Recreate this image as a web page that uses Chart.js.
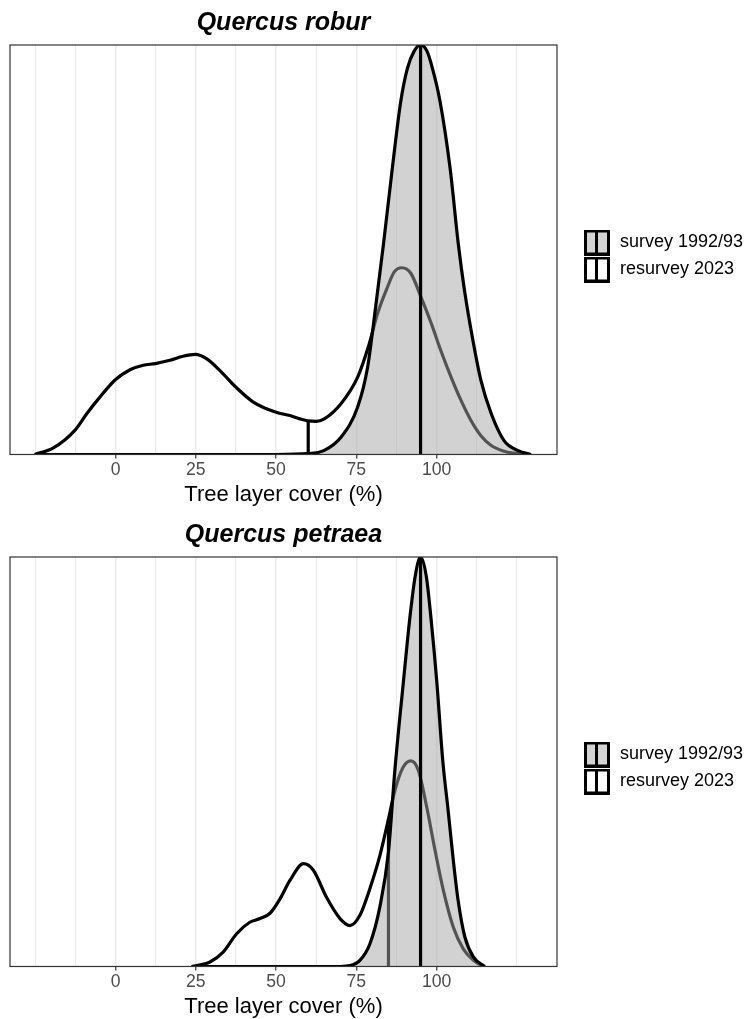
<!DOCTYPE html>
<html>
<head>
<meta charset="utf-8">
<script src="https://cdn.jsdelivr.net/npm/chart.js@4.4.1/dist/chart.umd.min.js"></script>
<style>
  html, body { margin: 0; padding: 0; background: #ffffff; overflow: hidden; }
  canvas { display: block; }
</style>
</head>
<body>
<canvas id="robur" width="749" height="512"></canvas>
<canvas id="petraea" width="749" height="512"></canvas>
<script>
// Tree layer cover (%) and scaled kernel density heights, per species and survey.
const roburSurveyX = [-25.2, 0, 25, 50, 60, 65, 70.2, 75.4, 78.5, 81, 83.4, 86.2, 88.8, 90.9, 93, 95, 97, 98.7, 101.1, 104.2, 106.8, 108.7, 111.3, 113.8, 117, 121, 125.2, 129.4];
const roburSurveyY = [0, 0, 0, 0, 0.002, 0.01, 0.042, 0.116, 0.213, 0.36, 0.511, 0.699, 0.861, 0.943, 0.985, 1.0, 0.985, 0.943, 0.861, 0.699, 0.511, 0.40, 0.279, 0.181, 0.1, 0.034, 0.01, 0];

const roburResurveyX = [-25.2, -19.4, -12.7, -9, -4.9, 0, 4.5, 8.6, 12.4, 16.9, 21, 24.9, 28.3, 32.5, 37.4, 42.9, 50, 54.3, 57.4, 60, 62.5, 65, 70.2, 75.4, 79, 81.6, 84.7, 86.8, 89.2, 92, 95.1, 98.2, 101.3, 104.5, 107.6, 110.7, 113.8, 117, 121, 125.2, 129.4];
const roburResurveyY = [0, 0.016, 0.059, 0.0995, 0.14, 0.183, 0.207, 0.218, 0.222, 0.23, 0.24, 0.2445, 0.234, 0.205, 0.165, 0.128, 0.103, 0.095, 0.087, 0.082, 0.081, 0.087, 0.124, 0.189, 0.27, 0.344, 0.409, 0.446, 0.456, 0.442, 0.385, 0.323, 0.254, 0.189, 0.132, 0.083, 0.046, 0.022, 0.008, 0.002, 0];

const petraeaSurveyX = [23.7, 50, 70, 73, 76.1, 79.2, 82.3, 85, 87, 89.6, 91.7, 93.3, 95, 96.8, 98.2, 100.1, 101.9, 103.6, 105.2, 106.7, 108.8, 111.5, 114.6, 115];
const petraeaSurveyY = [0, 0, 0, 0.002, 0.015, 0.055, 0.145, 0.28, 0.48, 0.691, 0.854, 0.952, 1.0, 0.952, 0.854, 0.691, 0.504, 0.38, 0.259, 0.161, 0.072, 0.023, 0.002, 0];

const petraeaResurveyX = [23.7, 29.4, 33.5, 37.7, 41.8, 45, 48.1, 51.2, 54.3, 58.5, 61.6, 65.7, 69.9, 73, 76.1, 79.2, 82.3, 85, 87, 89.6, 92, 94.3, 96.9, 99.5, 102.1, 105.2, 108.3, 111.5, 113.6, 115];
const petraeaResurveyY = [0, 0.011, 0.035, 0.08, 0.108, 0.117, 0.13, 0.165, 0.21, 0.251, 0.235, 0.169, 0.117, 0.10, 0.125, 0.19, 0.27, 0.36, 0.43, 0.487, 0.502, 0.479, 0.39, 0.284, 0.186, 0.096, 0.043, 0.015, 0.004, 0];

// Medians: [survey 1992/93, resurvey 2023]
const roburMedians = [95, 60];
const petraeaMedians = [95, 85];

const seriesLabels = ['survey 1992/93', 'resurvey 2023'];
const gridBreaks = [-25, -12.5, 0, 12.5, 25, 37.5, 50, 62.5, 75, 87.5, 100, 112.5, 125];
const tickLabels = [0, 25, 50, 75, 100];
const xLimits = [-32.9, 137.5];

Chart.defaults.font.family = "'Liberation Sans', Arial, Helvetica, sans-serif";
Chart.defaults.color = '#000000';

const surveyFill = 'rgba(166,166,166,0.5)';

function points(xs, ys) {
  return xs.map((x, i) => ({ x: x, y: ys[i] }));
}

function heightAt(xs, ys, x) {
  const i = xs.indexOf(x);
  return i >= 0 ? ys[i] : 0;
}

// Legend key: framed box with a median bar through the middle
function legendKey(fill) {
  const c = document.createElement('canvas');
  c.width = 43; c.height = 26;
  const g = c.getContext('2d');
  g.fillStyle = fill;
  g.fillRect(17, 0, 26, 26);
  g.fillStyle = '#000000';
  g.fillRect(17, 0, 26, 3);
  g.fillRect(17, 23, 26, 3);
  g.fillRect(17, 0, 3, 26);
  g.fillRect(40, 0, 3, 26);
  g.fillRect(28, 0, 3, 26);
  return c;
}
const surveyKey = legendKey('#d3d3d3');
const resurveyKey = legendKey('#ffffff');

const panelBorder = {
  id: 'panelBorder',
  afterDatasetsDraw(chart) {
    const a = chart.chartArea;
    const ctx = chart.ctx;
    ctx.save();
    ctx.strokeStyle = '#333333';
    ctx.lineWidth = 1.2;
    ctx.strokeRect(a.left, a.top, a.right - a.left, a.bottom - a.top);
    ctx.restore();
  }
};

function makePanel(id, title, sx, sy, rx, ry, medians) {
  const line = { borderColor: '#000000', borderWidth: 3.2, pointRadius: 0, pointHoverRadius: 0, borderJoinStyle: 'round' };
  const sMed = medians[0], rMed = medians[1];
  return new Chart(document.getElementById(id), {
    type: 'line',
    data: {
      datasets: [
        Object.assign({ label: 'survey median', data: [{ x: sMed, y: 0 }, { x: sMed, y: heightAt(sx, sy, sMed) }], fill: false, borderCapStyle: 'butt' }, line),
        Object.assign({ label: seriesLabels[0], data: points(sx, sy), fill: 'origin', backgroundColor: surveyFill, cubicInterpolationMode: 'monotone' }, line),
        Object.assign({ label: 'resurvey median', data: [{ x: rMed, y: 0 }, { x: rMed, y: heightAt(rx, ry, rMed) }], fill: false, borderCapStyle: 'butt' }, line),
        Object.assign({ label: seriesLabels[1], data: points(rx, ry), fill: false, cubicInterpolationMode: 'monotone' }, line)
      ]
    },
    options: {
      responsive: false,
      animation: false,
      events: [],
      layout: { padding: { left: 10, right: 0, top: 0, bottom: 0 } },
      plugins: {
        title: {
          display: true, text: title, fullSize: false, color: '#000000',
          font: { size: 25, weight: 'bold', style: 'italic' },
          padding: { top: 8, bottom: 7 }
        },
        legend: {
          display: true, position: 'right', align: 'center', maxWidth: 192,
          labels: {
            usePointStyle: true, pointStyleWidth: 45, padding: 9, color: '#000000',
            font: { size: 18 },
            generateLabels: () => [
              { text: seriesLabels[0], pointStyle: surveyKey, datasetIndex: 1, fontColor: '#000000', lineWidth: 0, hidden: false },
              { text: seriesLabels[1], pointStyle: resurveyKey, datasetIndex: 3, fontColor: '#000000', lineWidth: 0, hidden: false }
            ]
          }
        },
        tooltip: { enabled: false }
      },
      scales: {
        x: {
          type: 'linear', min: xLimits[0], max: xLimits[1],
          afterBuildTicks: (scale) => { scale.ticks = gridBreaks.map(v => ({ value: v })); },
          ticks: {
            autoSkip: false, maxRotation: 0, padding: 1, color: '#4d4d4d', font: { size: 17.6 },
            callback: (v) => tickLabels.includes(v) ? String(v) : ''
          },
          grid: {
            color: '#ebebeb',
            lineWidth: (c) => (c.tick && tickLabels.includes(c.tick.value)) ? 1.5 : 1,
            tickColor: (c) => (c.tick && tickLabels.includes(c.tick.value)) ? '#333333' : 'rgba(0,0,0,0)',
            tickLength: 4, tickWidth: 1.2, drawTicks: true
          },
          border: { display: false },
          title: { display: true, text: 'Tree layer cover (%)', color: '#000000', font: { size: 22 }, padding: { top: 0, bottom: 4 } }
        },
        y: { type: 'linear', display: false, min: 0, max: 1 }
      }
    },
    plugins: [panelBorder]
  });
}

makePanel('robur', 'Quercus robur', roburSurveyX, roburSurveyY, roburResurveyX, roburResurveyY, roburMedians);
makePanel('petraea', 'Quercus petraea', petraeaSurveyX, petraeaSurveyY, petraeaResurveyX, petraeaResurveyY, petraeaMedians);
</script>
</body>
</html>
